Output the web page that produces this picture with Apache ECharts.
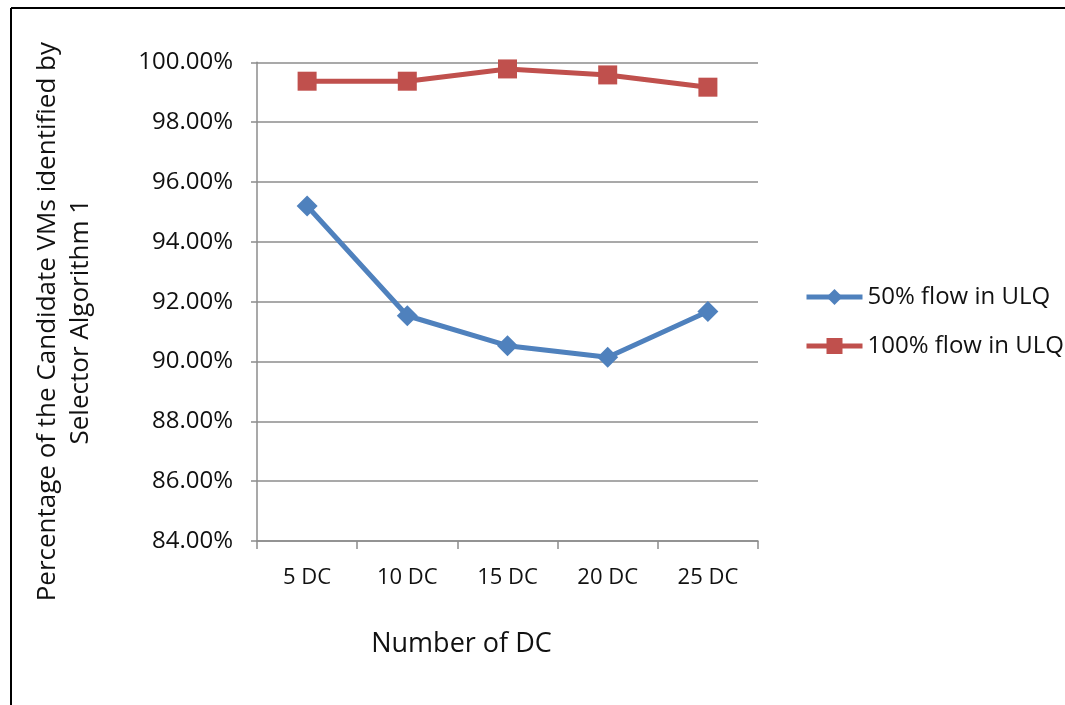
<!DOCTYPE html>
<html>
<head>
<meta charset="utf-8">
<script src="https://cdn.jsdelivr.net/npm/echarts@6/dist/echarts.min.js"></script>
<style>
html,body{margin:0;padding:0;background:#fff;}
#chart{width:1065px;height:705px;}
</style>
</head>
<body>
<div id="chart"></div>
<script>
const categories = ['5 DC', '10 DC', '15 DC', '20 DC', '25 DC'];
const flow50 = [95.20, 91.53, 90.53, 90.14, 91.67];
const flow100 = [99.37, 99.37, 99.78, 99.58, 99.17];
const seriesNames = ['50% flow in ULQ', '100% flow in ULQ'];
const yTitle = 'Percentage of the Candidate VMs identified by\nSelector Algorithm 1';
const xTitle = 'Number of DC';

const FONT = 'Open Sans';
const TXT = '#111';
const GRIDC = '#8c8c8c';

const chart = echarts.init(document.getElementById('chart'), null, {renderer: 'canvas'});
chart.setOption({
  backgroundColor: '#fff',
  animation: false,
  grid: {left: 257, right: 307, top: 60, bottom: 164, containLabel: false},
  legend: {
    orient: 'vertical',
    left: 804,
    top: 285,
    padding: 0,
    itemWidth: 56,
    itemHeight: 20,
    itemGap: 25,
    lineStyle: {width: 5},
    textStyle: {fontFamily: FONT, fontSize: 24, color: TXT, lineHeight: 24},
    data: seriesNames
  },
  xAxis: {
    type: 'category',
    data: categories,
    boundaryGap: true,
    axisLine: {lineStyle: {color: GRIDC, width: 1.5}},
    axisTick: {show: true, length: 8, lineStyle: {color: GRIDC, width: 1.5}},
    axisLabel: {fontFamily: FONT, fontSize: 22, color: TXT, margin: 25, lineHeight: 24},
    name: xTitle,
    nameLocation: 'middle',
    nameGap: 89,
    nameTextStyle: {fontFamily: FONT, fontSize: 27, color: TXT, lineHeight: 28, padding: [0, 92, 0, 0]}
  },
  yAxis: {
    type: 'value',
    min: 84,
    max: 100,
    interval: 2,
    axisLine: {show: true, lineStyle: {color: GRIDC, width: 1.5}},
    axisTick: {show: true, inside: false, length: 6, lineStyle: {color: GRIDC, width: 1.5}},
    splitLine: {show: true, lineStyle: {color: GRIDC, width: 1.5}},
    axisLabel: {
      fontFamily: FONT, fontSize: 24, color: TXT, margin: 24,
      formatter: v => v.toFixed(2) + '%'
    },
    name: yTitle,
    nameLocation: 'middle',
    nameGap: 160,
    nameRotate: 90,
    nameTextStyle: {fontFamily: FONT, fontSize: 26, color: TXT, lineHeight: 33, align: 'center', padding: [0, 40, 0, 0]}
  },
  series: [
    {
      name: seriesNames[0],
      type: 'line',
      data: flow50,
      symbol: 'diamond',
      symbolSize: 21,
      lineStyle: {color: '#4F81BD', width: 5},
      itemStyle: {color: '#4F81BD'}
    },
    {
      name: seriesNames[1],
      type: 'line',
      data: flow100,
      symbol: 'rect',
      symbolSize: 19,
      lineStyle: {color: '#C0504D', width: 5},
      itemStyle: {color: '#C0504D'}
    }
  ],
  graphic: [
    {type: 'line', shape: {x1: 11, y1: 8, x2: 1065, y2: 8}, style: {stroke: '#000', lineWidth: 2}, silent: true},
    {type: 'line', shape: {x1: 11, y1: 8, x2: 11, y2: 705}, style: {stroke: '#000', lineWidth: 2}, silent: true}
  ]
});
</script>
</body>
</html>
